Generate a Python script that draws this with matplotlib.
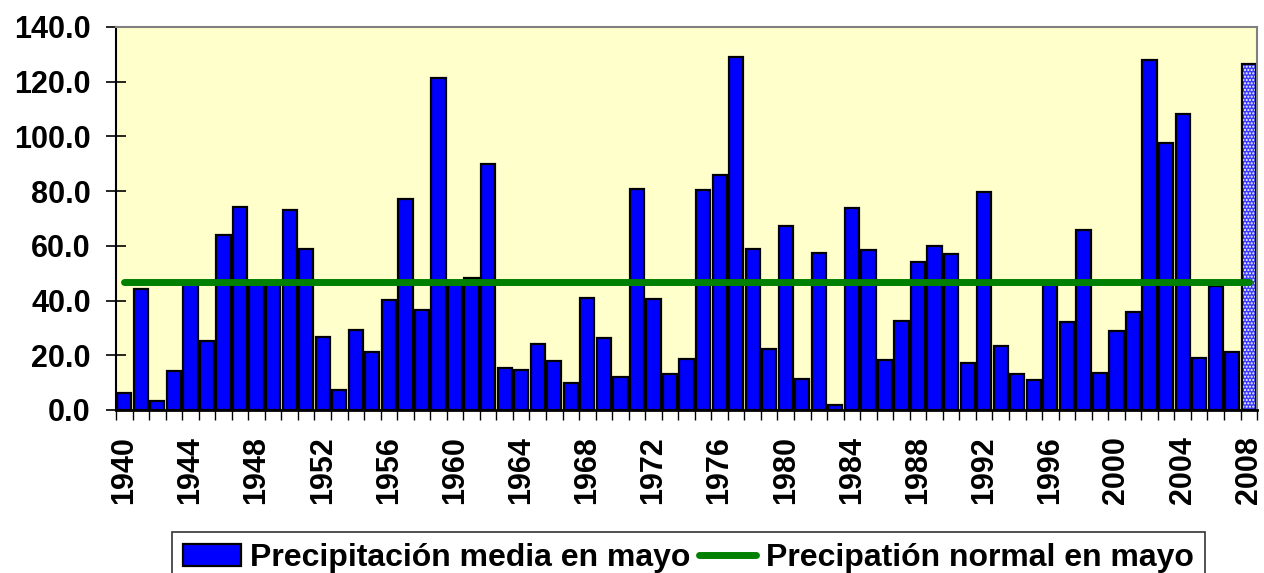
import numpy as np
import matplotlib
matplotlib.use("Agg")
import matplotlib.pyplot as plt
from matplotlib.ticker import FormatStrFormatter, FixedLocator

plt.rcParams['font.family'] = ['Liberation Sans', 'DejaVu Sans']
plt.rcParams['font.weight'] = 'bold'
plt.rcParams['hatch.linewidth'] = 1.0

# May precipitation per year (mm)
years = list(range(1940, 2009))
rain = [6.3, 44.3, 3.3, 14.3, 46.0, 25.2, 64.0, 74.3, 46.5, 46.2,
        73.1, 59.0, 26.8, 7.3, 29.2, 21.3, 40.2, 77.2, 36.5, 121.3,
        46.0, 48.4, 89.8, 15.4, 14.6, 24.1, 17.9, 9.7, 40.8, 26.4,
        12.2, 80.8, 40.5, 13.2, 18.8, 80.4, 85.8, 129.0, 58.7, 22.2,
        67.3, 11.4, 57.3, 1.8, 73.7, 58.5, 18.2, 32.5, 54.0, 59.8,
        56.9, 17.2, 79.6, 23.4, 13.2, 11.0, 45.8, 32.3, 65.8, 13.4,
        29.0, 35.9, 127.9, 97.7, 108.2, 19.1, 45.5, 21.3, 126.5]
normal = 46.8
label_bars = 'Precipitación media en mayo'
label_line = 'Precipatión normal en mayo'

x = np.arange(len(years))

fig = plt.figure(figsize=(12.64, 5.73), dpi=100)
ax = fig.add_axes([0.0918, 0.2845, 0.9027, 0.6684])
ax.set_facecolor('#FFFFCC')

# all years except the last (incomplete) one
bars = ax.bar(x[:-1], rain[:-1], width=0.86, color='#0000FF',
              edgecolor='black', linewidth=1.6, zorder=2, label=label_bars)
# last year drawn with a dotted pattern
ax.bar(x[-1], rain[-1], width=0.86, color='#3b3bff', edgecolor='white',
       hatch='.....', linewidth=0, zorder=2)
ax.bar(x[-1], rain[-1], width=0.86, fill=False, edgecolor='black',
       linewidth=1.6, zorder=2)

line, = ax.plot([x[0], x[-1]], [normal, normal], color='#008000', lw=5,
                solid_capstyle='round', zorder=3, label=label_line)

ax.set_xlim(-0.5, len(years) - 0.5)
ax.set_ylim(0, 140)
ax.set_yticks(np.arange(0, 141, 20))
ax.yaxis.set_major_formatter(FormatStrFormatter('%.1f'))
ax.tick_params(axis='y', direction='inout', length=14.4, width=1.2,
               pad=11, labelsize=22)

ax.set_xticks(x[::4])
ax.set_xticklabels([str(y) for y in years[::4]], rotation=90)
ax.xaxis.set_minor_locator(FixedLocator(np.arange(-0.5, len(years), 1.0)))
ax.tick_params(axis='x', which='major', length=0, pad=19, labelsize=22)
ax.tick_params(axis='x', which='minor', direction='out', length=7.2, width=1)

for lab in ax.get_xticklabels() + ax.get_yticklabels():
    lab.set_fontweight('bold')

ax.spines['left'].set_color('black')
ax.spines['left'].set_linewidth(1.5)
ax.spines['bottom'].set_color('black')
ax.spines['bottom'].set_linewidth(2)
ax.spines['top'].set_color('#808080')
ax.spines['top'].set_linewidth(1.5)
ax.spines['right'].set_color('#808080')
ax.spines['right'].set_linewidth(1.5)

leg = fig.legend(handles=[bars, line], labels=[label_bars, label_line],
                 loc='upper center', bbox_to_anchor=(0.5447, 0.0716),
                 ncol=2, frameon=True, fancybox=False, shadow=False,
                 prop={'size': 23, 'weight': 'bold'},
                 handlelength=1.8, handleheight=0.7, handletextpad=0.3,
                 columnspacing=0.25, borderpad=0.35, borderaxespad=0)
leg.get_frame().set_edgecolor('black')
leg.get_frame().set_linewidth(1.2)

fig.savefig('out.png', dpi=100)
